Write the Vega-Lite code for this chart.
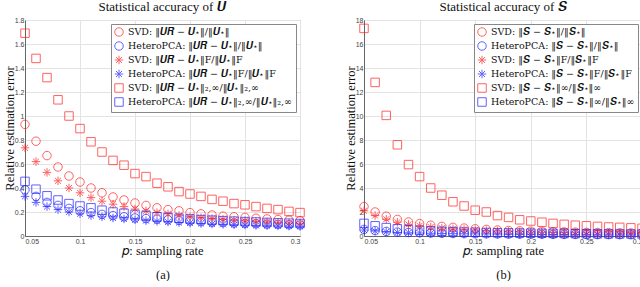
{
  "$schema": "https://vega.github.io/schema/vega-lite/v6.json",
  "padding": {"left": 2, "top": 0, "right": 0, "bottom": 0},
  "background": "white",
  "spacing": 36,
  "datasets": {
    "a": [
      {"s":"1","p":0.05,"e":0.93},{"s":"1","p":0.06,"e":0.79},{"s":"1","p":0.07,"e":0.67},{"s":"1","p":0.08,"e":0.575},{"s":"1","p":0.09,"e":0.5},{"s":"1","p":0.10,"e":0.45},{"s":"1","p":0.11,"e":0.4},{"s":"1","p":0.12,"e":0.36},{"s":"1","p":0.13,"e":0.325},{"s":"1","p":0.14,"e":0.3},{"s":"1","p":0.15,"e":0.275},{"s":"1","p":0.16,"e":0.255},{"s":"1","p":0.17,"e":0.235},{"s":"1","p":0.18,"e":0.22},{"s":"1","p":0.19,"e":0.21},{"s":"1","p":0.20,"e":0.195},{"s":"1","p":0.21,"e":0.185},{"s":"1","p":0.22,"e":0.175},{"s":"1","p":0.23,"e":0.165},{"s":"1","p":0.24,"e":0.16},{"s":"1","p":0.25,"e":0.155},{"s":"1","p":0.26,"e":0.148},{"s":"1","p":0.27,"e":0.142},{"s":"1","p":0.28,"e":0.137},{"s":"1","p":0.29,"e":0.132},{"s":"1","p":0.30,"e":0.128},
      {"s":"2","p":0.05,"e":0.385},{"s":"2","p":0.06,"e":0.33},{"s":"2","p":0.07,"e":0.28},{"s":"2","p":0.08,"e":0.255},{"s":"2","p":0.09,"e":0.23},{"s":"2","p":0.10,"e":0.21},{"s":"2","p":0.11,"e":0.195},{"s":"2","p":0.12,"e":0.18},{"s":"2","p":0.13,"e":0.17},{"s":"2","p":0.14,"e":0.16},{"s":"2","p":0.15,"e":0.15},{"s":"2","p":0.16,"e":0.145},{"s":"2","p":0.17,"e":0.14},{"s":"2","p":0.18,"e":0.135},{"s":"2","p":0.19,"e":0.13},{"s":"2","p":0.20,"e":0.125},{"s":"2","p":0.21,"e":0.12},{"s":"2","p":0.22,"e":0.115},{"s":"2","p":0.23,"e":0.112},{"s":"2","p":0.24,"e":0.108},{"s":"2","p":0.25,"e":0.105},{"s":"2","p":0.26,"e":0.102},{"s":"2","p":0.27,"e":0.099},{"s":"2","p":0.28,"e":0.097},{"s":"2","p":0.29,"e":0.094},{"s":"2","p":0.30,"e":0.092},
      {"s":"3","p":0.05,"e":0.735},{"s":"3","p":0.06,"e":0.62},{"s":"3","p":0.07,"e":0.53},{"s":"3","p":0.08,"e":0.46},{"s":"3","p":0.09,"e":0.4},{"s":"3","p":0.10,"e":0.36},{"s":"3","p":0.11,"e":0.32},{"s":"3","p":0.12,"e":0.29},{"s":"3","p":0.13,"e":0.265},{"s":"3","p":0.14,"e":0.245},{"s":"3","p":0.15,"e":0.225},{"s":"3","p":0.16,"e":0.21},{"s":"3","p":0.17,"e":0.195},{"s":"3","p":0.18,"e":0.185},{"s":"3","p":0.19,"e":0.17},{"s":"3","p":0.20,"e":0.16},{"s":"3","p":0.21,"e":0.152},{"s":"3","p":0.22,"e":0.145},{"s":"3","p":0.23,"e":0.138},{"s":"3","p":0.24,"e":0.132},{"s":"3","p":0.25,"e":0.127},{"s":"3","p":0.26,"e":0.122},{"s":"3","p":0.27,"e":0.118},{"s":"3","p":0.28,"e":0.114},{"s":"3","p":0.29,"e":0.11},{"s":"3","p":0.30,"e":0.106},
      {"s":"4","p":0.05,"e":0.33},{"s":"4","p":0.06,"e":0.28},{"s":"4","p":0.07,"e":0.245},{"s":"4","p":0.08,"e":0.22},{"s":"4","p":0.09,"e":0.2},{"s":"4","p":0.10,"e":0.185},{"s":"4","p":0.11,"e":0.17},{"s":"4","p":0.12,"e":0.16},{"s":"4","p":0.13,"e":0.15},{"s":"4","p":0.14,"e":0.142},{"s":"4","p":0.15,"e":0.135},{"s":"4","p":0.16,"e":0.128},{"s":"4","p":0.17,"e":0.122},{"s":"4","p":0.18,"e":0.117},{"s":"4","p":0.19,"e":0.112},{"s":"4","p":0.20,"e":0.108},{"s":"4","p":0.21,"e":0.104},{"s":"4","p":0.22,"e":0.1},{"s":"4","p":0.23,"e":0.097},{"s":"4","p":0.24,"e":0.094},{"s":"4","p":0.25,"e":0.091},{"s":"4","p":0.26,"e":0.088},{"s":"4","p":0.27,"e":0.086},{"s":"4","p":0.28,"e":0.084},{"s":"4","p":0.29,"e":0.082},{"s":"4","p":0.30,"e":0.08},
      {"s":"5","p":0.05,"e":1.69},{"s":"5","p":0.06,"e":1.48},{"s":"5","p":0.07,"e":1.32},{"s":"5","p":0.08,"e":1.135},{"s":"5","p":0.09,"e":1.0},{"s":"5","p":0.10,"e":0.895},{"s":"5","p":0.11,"e":0.785},{"s":"5","p":0.12,"e":0.7},{"s":"5","p":0.13,"e":0.63},{"s":"5","p":0.14,"e":0.59},{"s":"5","p":0.15,"e":0.52},{"s":"5","p":0.16,"e":0.495},{"s":"5","p":0.17,"e":0.44},{"s":"5","p":0.18,"e":0.41},{"s":"5","p":0.19,"e":0.37},{"s":"5","p":0.20,"e":0.35},{"s":"5","p":0.21,"e":0.33},{"s":"5","p":0.22,"e":0.305},{"s":"5","p":0.23,"e":0.29},{"s":"5","p":0.24,"e":0.27},{"s":"5","p":0.25,"e":0.26},{"s":"5","p":0.26,"e":0.245},{"s":"5","p":0.27,"e":0.23},{"s":"5","p":0.28,"e":0.22},{"s":"5","p":0.29,"e":0.205},{"s":"5","p":0.30,"e":0.195},
      {"s":"6","p":0.05,"e":0.455},{"s":"6","p":0.06,"e":0.39},{"s":"6","p":0.07,"e":0.335},{"s":"6","p":0.08,"e":0.3},{"s":"6","p":0.09,"e":0.27},{"s":"6","p":0.10,"e":0.25},{"s":"6","p":0.11,"e":0.235},{"s":"6","p":0.12,"e":0.215},{"s":"6","p":0.13,"e":0.2},{"s":"6","p":0.14,"e":0.19},{"s":"6","p":0.15,"e":0.18},{"s":"6","p":0.16,"e":0.17},{"s":"6","p":0.17,"e":0.16},{"s":"6","p":0.18,"e":0.155},{"s":"6","p":0.19,"e":0.148},{"s":"6","p":0.20,"e":0.142},{"s":"6","p":0.21,"e":0.137},{"s":"6","p":0.22,"e":0.132},{"s":"6","p":0.23,"e":0.128},{"s":"6","p":0.24,"e":0.124},{"s":"6","p":0.25,"e":0.12},{"s":"6","p":0.26,"e":0.117},{"s":"6","p":0.27,"e":0.113},{"s":"6","p":0.28,"e":0.11},{"s":"6","p":0.29,"e":0.107},{"s":"6","p":0.30,"e":0.104}
    ],
    "b": [
      {"s":"1","p":0.05,"e":2.45},{"s":"1","p":0.06,"e":2.0},{"s":"1","p":0.07,"e":1.65},{"s":"1","p":0.08,"e":1.38},{"s":"1","p":0.09,"e":1.17},{"s":"1","p":0.10,"e":1.03},{"s":"1","p":0.11,"e":0.9},{"s":"1","p":0.12,"e":0.8},{"s":"1","p":0.13,"e":0.72},{"s":"1","p":0.14,"e":0.66},{"s":"1","p":0.15,"e":0.6},{"s":"1","p":0.16,"e":0.55},{"s":"1","p":0.17,"e":0.5},{"s":"1","p":0.18,"e":0.46},{"s":"1","p":0.19,"e":0.43},{"s":"1","p":0.20,"e":0.4},{"s":"1","p":0.21,"e":0.38},{"s":"1","p":0.22,"e":0.36},{"s":"1","p":0.23,"e":0.34},{"s":"1","p":0.24,"e":0.32},{"s":"1","p":0.25,"e":0.3},{"s":"1","p":0.26,"e":0.29},{"s":"1","p":0.27,"e":0.28},{"s":"1","p":0.28,"e":0.27},{"s":"1","p":0.29,"e":0.26},{"s":"1","p":0.30,"e":0.25},
      {"s":"2","p":0.05,"e":0.55},{"s":"2","p":0.06,"e":0.45},{"s":"2","p":0.07,"e":0.38},{"s":"2","p":0.08,"e":0.33},{"s":"2","p":0.09,"e":0.29},{"s":"2","p":0.10,"e":0.27},{"s":"2","p":0.11,"e":0.25},{"s":"2","p":0.12,"e":0.23},{"s":"2","p":0.13,"e":0.21},{"s":"2","p":0.14,"e":0.2},{"s":"2","p":0.15,"e":0.19},{"s":"2","p":0.16,"e":0.18},{"s":"2","p":0.17,"e":0.17},{"s":"2","p":0.18,"e":0.16},{"s":"2","p":0.19,"e":0.155},{"s":"2","p":0.20,"e":0.15},{"s":"2","p":0.21,"e":0.145},{"s":"2","p":0.22,"e":0.14},{"s":"2","p":0.23,"e":0.135},{"s":"2","p":0.24,"e":0.13},{"s":"2","p":0.25,"e":0.125},{"s":"2","p":0.26,"e":0.12},{"s":"2","p":0.27,"e":0.118},{"s":"2","p":0.28,"e":0.115},{"s":"2","p":0.29,"e":0.112},{"s":"2","p":0.30,"e":0.11},
      {"s":"3","p":0.05,"e":2.1},{"s":"3","p":0.06,"e":1.7},{"s":"3","p":0.07,"e":1.4},{"s":"3","p":0.08,"e":1.15},{"s":"3","p":0.09,"e":0.97},{"s":"3","p":0.10,"e":0.85},{"s":"3","p":0.11,"e":0.75},{"s":"3","p":0.12,"e":0.66},{"s":"3","p":0.13,"e":0.6},{"s":"3","p":0.14,"e":0.55},{"s":"3","p":0.15,"e":0.5},{"s":"3","p":0.16,"e":0.46},{"s":"3","p":0.17,"e":0.42},{"s":"3","p":0.18,"e":0.39},{"s":"3","p":0.19,"e":0.36},{"s":"3","p":0.20,"e":0.34},{"s":"3","p":0.21,"e":0.32},{"s":"3","p":0.22,"e":0.3},{"s":"3","p":0.23,"e":0.28},{"s":"3","p":0.24,"e":0.27},{"s":"3","p":0.25,"e":0.26},{"s":"3","p":0.26,"e":0.25},{"s":"3","p":0.27,"e":0.24},{"s":"3","p":0.28,"e":0.23},{"s":"3","p":0.29,"e":0.22},{"s":"3","p":0.30,"e":0.21},
      {"s":"4","p":0.05,"e":0.5},{"s":"4","p":0.06,"e":0.41},{"s":"4","p":0.07,"e":0.35},{"s":"4","p":0.08,"e":0.3},{"s":"4","p":0.09,"e":0.27},{"s":"4","p":0.10,"e":0.25},{"s":"4","p":0.11,"e":0.23},{"s":"4","p":0.12,"e":0.21},{"s":"4","p":0.13,"e":0.195},{"s":"4","p":0.14,"e":0.185},{"s":"4","p":0.15,"e":0.175},{"s":"4","p":0.16,"e":0.165},{"s":"4","p":0.17,"e":0.155},{"s":"4","p":0.18,"e":0.148},{"s":"4","p":0.19,"e":0.142},{"s":"4","p":0.20,"e":0.136},{"s":"4","p":0.21,"e":0.13},{"s":"4","p":0.22,"e":0.125},{"s":"4","p":0.23,"e":0.12},{"s":"4","p":0.24,"e":0.116},{"s":"4","p":0.25,"e":0.112},{"s":"4","p":0.26,"e":0.108},{"s":"4","p":0.27,"e":0.105},{"s":"4","p":0.28,"e":0.102},{"s":"4","p":0.29,"e":0.1},{"s":"4","p":0.30,"e":0.097},
      {"s":"5","p":0.05,"e":17.3},{"s":"5","p":0.06,"e":12.8},{"s":"5","p":0.07,"e":10.05},{"s":"5","p":0.08,"e":7.6},{"s":"5","p":0.09,"e":5.95},{"s":"5","p":0.10,"e":4.95},{"s":"5","p":0.11,"e":4.0},{"s":"5","p":0.12,"e":3.4},{"s":"5","p":0.13,"e":2.85},{"s":"5","p":0.14,"e":2.5},{"s":"5","p":0.15,"e":2.15},{"s":"5","p":0.16,"e":2.0},{"s":"5","p":0.17,"e":1.7},{"s":"5","p":0.18,"e":1.55},{"s":"5","p":0.19,"e":1.35},{"s":"5","p":0.20,"e":1.25},{"s":"5","p":0.21,"e":1.15},{"s":"5","p":0.22,"e":1.05},{"s":"5","p":0.23,"e":0.97},{"s":"5","p":0.24,"e":0.9},{"s":"5","p":0.25,"e":0.85},{"s":"5","p":0.26,"e":0.8},{"s":"5","p":0.27,"e":0.75},{"s":"5","p":0.28,"e":0.72},{"s":"5","p":0.29,"e":0.68},{"s":"5","p":0.30,"e":0.64},
      {"s":"6","p":0.05,"e":1.05},{"s":"6","p":0.06,"e":0.85},{"s":"6","p":0.07,"e":0.7},{"s":"6","p":0.08,"e":0.6},{"s":"6","p":0.09,"e":0.52},{"s":"6","p":0.10,"e":0.47},{"s":"6","p":0.11,"e":0.43},{"s":"6","p":0.12,"e":0.39},{"s":"6","p":0.13,"e":0.36},{"s":"6","p":0.14,"e":0.33},{"s":"6","p":0.15,"e":0.31},{"s":"6","p":0.16,"e":0.29},{"s":"6","p":0.17,"e":0.27},{"s":"6","p":0.18,"e":0.26},{"s":"6","p":0.19,"e":0.25},{"s":"6","p":0.20,"e":0.24},{"s":"6","p":0.21,"e":0.23},{"s":"6","p":0.22,"e":0.22},{"s":"6","p":0.23,"e":0.21},{"s":"6","p":0.24,"e":0.2},{"s":"6","p":0.25,"e":0.19},{"s":"6","p":0.26,"e":0.185},{"s":"6","p":0.27,"e":0.18},{"s":"6","p":0.28,"e":0.175},{"s":"6","p":0.29,"e":0.17},{"s":"6","p":0.30,"e":0.165}
    ]
  },
  "resolve": {"scale": {"color": "independent", "shape": "independent", "size": "independent"}},
  "hconcat": [
    {
      "width": 275,
      "height": 216,
      "data": {"name": "a"},
      "title": {"text": "Statistical accuracy of 𝑼"},
      "mark": {"type": "point", "filled": false, "strokeWidth": 1, "opacity": 0.7},
      "encoding": {
        "x": {"field": "p", "type": "quantitative", "scale": {"domain": [0.05, 0.3], "nice": false, "zero": false},
              "axis": {"values": [0.05, 0.1, 0.15, 0.2, 0.25, 0.3], "format": "~g", "title": ["𝑝: sampling rate", "(a)"]}},
        "y": {"field": "e", "type": "quantitative", "scale": {"domain": [0, 1.8], "nice": false},
              "axis": {"values": [0, 0.2, 0.4, 0.6, 0.8, 1, 1.2, 1.4, 1.6, 1.8], "format": "~g", "title": "Relative estimation error"}},
        "color": {"field": "s", "type": "nominal",
                  "scale": {"domain": ["1","2","3","4","5","6"], "range": ["#ff2020","#2020ff","#ff2020","#2020ff","#ff2020","#2020ff"]},
                  "legend": {"labelExpr": "['SVD: ‖𝑼𝑹 − 𝑼⋆‖/‖𝑼⋆‖','HeteroPCA: ‖𝑼𝑹 − 𝑼⋆‖/‖𝑼⋆‖','SVD: ‖𝑼𝑹 − 𝑼⋆‖F/‖𝑼⋆‖F','HeteroPCA: ‖𝑼𝑹 − 𝑼⋆‖F/‖𝑼⋆‖F','SVD: ‖𝑼𝑹 − 𝑼⋆‖₂,∞/‖𝑼⋆‖₂,∞','HeteroPCA: ‖𝑼𝑹 − 𝑼⋆‖₂,∞/‖𝑼⋆‖₂,∞'][toNumber(datum.value) - 1]"}},
        "shape": {"field": "s", "type": "nominal",
                  "scale": {"domain": ["1","2","3","4","5","6"], "range": ["circle","circle","M0,-1L0,1M-1,0L1,0M-0.7,-0.7L0.7,0.7M-0.7,0.7L0.7,-0.7","M0,-1L0,1M-1,0L1,0M-0.7,-0.7L0.7,0.7M-0.7,0.7L0.7,-0.7","square","square"]},
                  "legend": {"labelExpr": "['SVD: ‖𝑼𝑹 − 𝑼⋆‖/‖𝑼⋆‖','HeteroPCA: ‖𝑼𝑹 − 𝑼⋆‖/‖𝑼⋆‖','SVD: ‖𝑼𝑹 − 𝑼⋆‖F/‖𝑼⋆‖F','HeteroPCA: ‖𝑼𝑹 − 𝑼⋆‖F/‖𝑼⋆‖F','SVD: ‖𝑼𝑹 − 𝑼⋆‖₂,∞/‖𝑼⋆‖₂,∞','HeteroPCA: ‖𝑼𝑹 − 𝑼⋆‖₂,∞/‖𝑼⋆‖₂,∞'][toNumber(datum.value) - 1]"}},
        "size": {"field": "s", "type": "nominal",
                 "scale": {"domain": ["1","2","3","4","5","6"], "range": [72, 72, 50, 50, 40, 40]},
                 "legend": null}
      }
    },
    {
      "width": 278,
      "height": 216,
      "data": {"name": "b"},
      "title": {"text": "Statistical accuracy of 𝑺"},
      "mark": {"type": "point", "filled": false, "strokeWidth": 1, "opacity": 0.7},
      "encoding": {
        "x": {"field": "p", "type": "quantitative", "scale": {"domain": [0.05, 0.3], "nice": false, "zero": false},
              "axis": {"values": [0.05, 0.1, 0.15, 0.2, 0.25, 0.3], "format": "~g", "title": ["𝑝: sampling rate", "(b)"]}},
        "y": {"field": "e", "type": "quantitative", "scale": {"domain": [0, 18], "nice": false},
              "axis": {"values": [0, 2, 4, 6, 8, 10, 12, 14, 16, 18], "format": "~g", "title": "Relative estimation error"}},
        "color": {"field": "s", "type": "nominal",
                  "scale": {"domain": ["1","2","3","4","5","6"], "range": ["#ff2020","#2020ff","#ff2020","#2020ff","#ff2020","#2020ff"]},
                  "legend": {"labelExpr": "['SVD: ‖𝑺 − 𝑺⋆‖/‖𝑺⋆‖','HeteroPCA: ‖𝑺 − 𝑺⋆‖/‖𝑺⋆‖','SVD: ‖𝑺 − 𝑺⋆‖F/‖𝑺⋆‖F','HeteroPCA: ‖𝑺 − 𝑺⋆‖F/‖𝑺⋆‖F','SVD: ‖𝑺 − 𝑺⋆‖∞/‖𝑺⋆‖∞','HeteroPCA: ‖𝑺 − 𝑺⋆‖∞/‖𝑺⋆‖∞'][toNumber(datum.value) - 1]"}},
        "shape": {"field": "s", "type": "nominal",
                  "scale": {"domain": ["1","2","3","4","5","6"], "range": ["circle","circle","M0,-1L0,1M-1,0L1,0M-0.7,-0.7L0.7,0.7M-0.7,0.7L0.7,-0.7","M0,-1L0,1M-1,0L1,0M-0.7,-0.7L0.7,0.7M-0.7,0.7L0.7,-0.7","square","square"]},
                  "legend": {"labelExpr": "['SVD: ‖𝑺 − 𝑺⋆‖/‖𝑺⋆‖','HeteroPCA: ‖𝑺 − 𝑺⋆‖/‖𝑺⋆‖','SVD: ‖𝑺 − 𝑺⋆‖F/‖𝑺⋆‖F','HeteroPCA: ‖𝑺 − 𝑺⋆‖F/‖𝑺⋆‖F','SVD: ‖𝑺 − 𝑺⋆‖∞/‖𝑺⋆‖∞','HeteroPCA: ‖𝑺 − 𝑺⋆‖∞/‖𝑺⋆‖∞'][toNumber(datum.value) - 1]"}},
        "size": {"field": "s", "type": "nominal",
                 "scale": {"domain": ["1","2","3","4","5","6"], "range": [72, 72, 50, 50, 40, 40]},
                 "legend": null}
      }
    }
  ],
  "config": {
    "view": {"stroke": "#999", "strokeWidth": 1},
    "title": {"font": "Liberation Serif", "fontSize": 13, "fontWeight": "normal", "color": "#111", "offset": 2},
    "axis": {
      "labelFont": "Liberation Sans", "labelFontSize": 7, "labelColor": "#444", "labelPadding": 1,
      "ticks": false, "domainColor": "#666",
      "gridColor": "#e3e3e3", "grid": true,
      "titleFont": "Liberation Serif", "titleFontSize": 12.5, "titleFontWeight": "normal", "titleColor": "#111"
    },
    "axisX": {"titleLineHeight": 24, "titlePadding": 0},
    "axisY": {"titlePadding": -2},
    "legend": {
      "orient": "top-right", "offset": 4, "title": null, "padding": 3,
      "strokeColor": "#888", "fillColor": "white",
      "labelFont": "DejaVu Serif", "labelFontSize": 9.5, "labelColor": "#111", "labelLimit": 300,
      "rowPadding": 0, "symbolSize": 36, "symbolStrokeWidth": 1, "symbolOpacity": 0.7
    }
  }
}
